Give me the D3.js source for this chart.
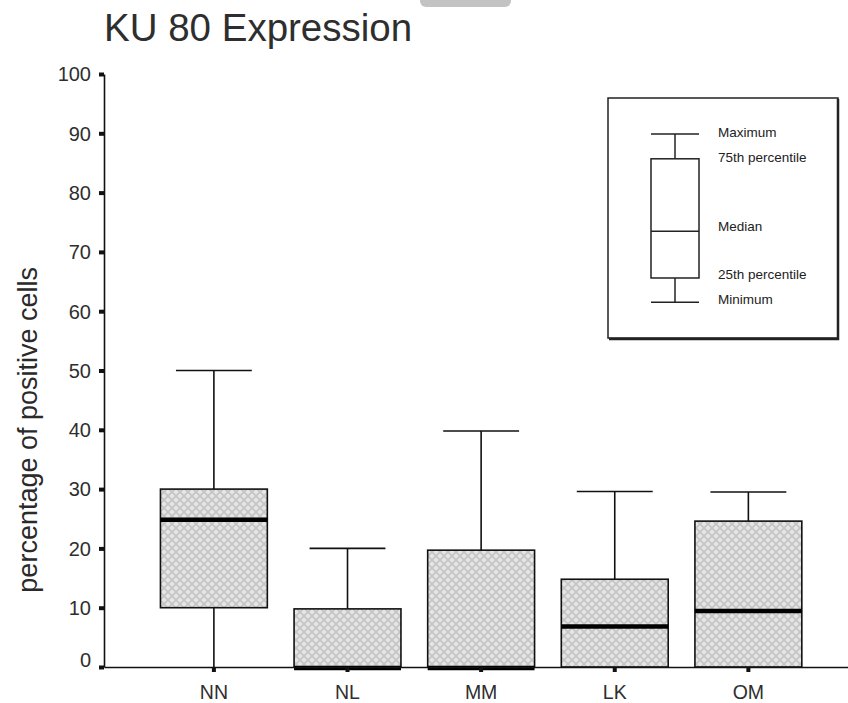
<html>
<head>
<script src="https://d3js.org/d3.v7.min.js"></script>
<style>
  body { margin: 0; background: #fff; }
  text { font-family: "Liberation Sans", Arial, sans-serif; fill: #222; }
</style>
</head>
<body>
<svg id="chart" width="848" height="703"></svg>
<script>
// box plot values (percentage of positive cells)
const categories = ["NN", "NL", "MM", "LK", "OM"];
const minVals    = [0, 0, 0, 0, 0];
const q1Vals     = [10, 0, 0, 0, 0];
const medianVals = [25, 0, 0, 7, 9.6];
const q3Vals     = [30, 9.8, 19.7, 14.8, 24.6];
const maxVals    = [50, 20, 39.8, 29.6, 29.5];
const yTicks     = [0, 10, 20, 30, 40, 50, 60, 70, 80, 90, 100];

// legend explanation box
const legendLabels = ["Maximum", "75th percentile", "Median", "25th percentile", "Minimum"];
const legendVals   = [89.9, 85.7, 73.5, 65.6, 61.5];

let svg = d3.select("svg#chart");
let width = +svg.attr("width");
let height = +svg.attr("height");
let margin = {"top": 74, "right": 0, "bottom": 36, "left": 104};

let yScale = d3.scaleLinear().domain([0, 100]).range([height - margin.bottom, margin.top]);
let xScale = d3.scaleBand().domain(categories)
    .range([margin.left, width - margin.right])
    .paddingInner(0.2).paddingOuter(0.384).align(0.55);

// hatch fill for the boxes
let defs = svg.append("defs");
let pat = defs.append("pattern")
    .attr("id", "hatch")
    .attr("patternUnits", "userSpaceOnUse")
    .attr("width", 8).attr("height", 8);
pat.append("rect").attr("width", 8).attr("height", 8).style("fill", "#e6e6e6");
pat.append("path").attr("d", "M0,0L8,8M8,0L0,8")
    .style("stroke", "#c4c4c4").style("stroke-width", 1.6);

// grey tab at the top of the scan
svg.append("rect")
    .attr("x", 420).attr("y", -10).attr("width", 91).attr("height", 17).attr("rx", 6)
    .style("fill", "#c3c3c3");

// title
svg.append("text")
    .attr("x", 104).attr("y", 41)
    .style("font-size", "38.5px")
    .style("fill", "#2e2e2e")
    .text("KU 80 Expression");

// y axis title
svg.append("text")
    .attr("transform", "translate(37," + (yScale(40)) + ") rotate(-90)")
    .attr("text-anchor", "middle")
    .style("font-size", "27px")
    .style("fill", "#2a2a2a")
    .text("percentage of positive cells");

// boxes
let bw = xScale.bandwidth();
let capW = bw * 0.71;
categories.forEach(function(c, i) {
    let cx = xScale(c) + bw / 2;
    let g = svg.append("g");
    // upper whisker
    g.append("line")
        .attr("x1", cx).attr("x2", cx)
        .attr("y1", yScale(maxVals[i])).attr("y2", yScale(q3Vals[i]))
        .style("stroke", "#111").style("stroke-width", 1.6);
    g.append("line")
        .attr("x1", cx - capW / 2).attr("x2", cx + capW / 2)
        .attr("y1", yScale(maxVals[i])).attr("y2", yScale(maxVals[i]))
        .style("stroke", "#111").style("stroke-width", 1.6);
    // lower whisker
    g.append("line")
        .attr("x1", cx).attr("x2", cx)
        .attr("y1", yScale(q1Vals[i])).attr("y2", yScale(minVals[i]))
        .style("stroke", "#111").style("stroke-width", 1.6);
    // box
    g.append("rect")
        .attr("x", xScale(c)).attr("width", bw)
        .attr("y", yScale(q3Vals[i]))
        .attr("height", yScale(q1Vals[i]) - yScale(q3Vals[i]))
        .style("fill", "url(#hatch)")
        .style("stroke", "#111").style("stroke-width", 1.6);
    // median
    g.append("line")
        .attr("x1", xScale(c)).attr("x2", xScale(c) + bw)
        .attr("y1", yScale(medianVals[i]) + 1).attr("y2", yScale(medianVals[i]) + 1)
        .style("stroke", "#000").style("stroke-width", 4.5);
});

// y axis
let yAxis = svg.append("g")
    .attr("transform", "translate(" + margin.left + ",0)")
    .call(d3.axisLeft(yScale).tickValues(yTicks).tickSize(5).tickSizeOuter(0).tickPadding(8));
yAxis.select(".domain").style("stroke", "#111").style("stroke-width", 1.6);
yAxis.selectAll(".tick line").style("stroke", "#111").style("stroke-width", 4);
yAxis.selectAll(".tick text")
    .style("font-size", "20px")
    .style("font-family", "Liberation Sans, Arial, sans-serif")
    .style("fill", "#2e2e2e")
    .attr("dy", d => d === 0 ? "-0.05em" : "0.34em");

// x axis
let xAxis = svg.append("g")
    .attr("transform", "translate(0," + yScale(0) + ")")
    .call(d3.axisBottom(xScale).tickSize(5).tickSizeOuter(0).tickPadding(13));
xAxis.select(".domain").style("stroke", "#111").style("stroke-width", 1.6);
xAxis.selectAll(".tick line").style("stroke", "#111").style("stroke-width", 4);
xAxis.selectAll(".tick text")
    .style("font-size", "19.5px")
    .style("font-family", "Liberation Sans, Arial, sans-serif")
    .style("fill", "#2e2e2e");

// legend frame
let legend = svg.append("g");
legend.append("rect")
    .attr("x", 608).attr("y", 98).attr("width", 230).attr("height", 240)
    .style("fill", "#fff").style("stroke", "#222").style("stroke-width", 1.5);
legend.append("path")
    .attr("d", "M838,99V339H609")
    .style("fill", "none").style("stroke", "#222").style("stroke-width", 2.5);

// legend boxplot, drawn against the main y scale
let lx = 651, lw = 48, lc = lx + lw / 2;
let lmax = legendVals[0], lq3 = legendVals[1], lmed = legendVals[2], lq1 = legendVals[3], lmin = legendVals[4];
legend.append("line").attr("x1", lc).attr("x2", lc).attr("y1", yScale(lmax)).attr("y2", yScale(lq3))
    .style("stroke", "#222").style("stroke-width", 1.5);
legend.append("line").attr("x1", lc).attr("x2", lc).attr("y1", yScale(lq1)).attr("y2", yScale(lmin))
    .style("stroke", "#222").style("stroke-width", 1.5);
[lmax, lmin].forEach(function(v) {
    legend.append("line").attr("x1", lx).attr("x2", lx + lw).attr("y1", yScale(v)).attr("y2", yScale(v))
        .style("stroke", "#222").style("stroke-width", 1.5);
});
legend.append("rect")
    .attr("x", lx).attr("width", lw)
    .attr("y", yScale(lq3)).attr("height", yScale(lq1) - yScale(lq3))
    .style("fill", "#fff").style("stroke", "#222").style("stroke-width", 1.5);
legend.append("line").attr("x1", lx).attr("x2", lx + lw).attr("y1", yScale(lmed)).attr("y2", yScale(lmed))
    .style("stroke", "#222").style("stroke-width", 1.5);

let labelShift = [-2, -2, -5, -4, -3];
legendLabels.forEach(function(l, i) {
    legend.append("text")
        .attr("x", 718)
        .attr("y", yScale(legendVals[i]) + labelShift[i])
        .attr("dy", "0.35em")
        .style("font-size", "13.5px")
        .text(l);
});
</script>
</body>
</html>
